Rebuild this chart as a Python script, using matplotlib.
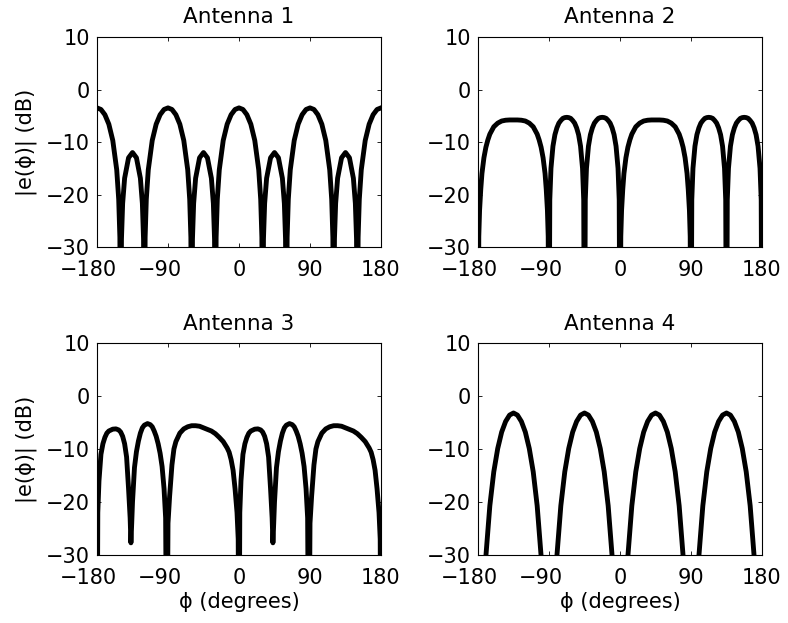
import matplotlib
matplotlib.use('Agg')
import matplotlib.pyplot as plt
from matplotlib.transforms import ScaledTranslation

plt.rcParams['font.family'] = ['DejaVu Sans']
plt.rcParams['font.size'] = 15

# element patterns |e(phi)| in dB, sampled over azimuth
phi1 = [-180, -175, -170, -165, -160, -155, -152.5, -151, -150, -149, -147.5, -145, -140,
        -135, -130, -125, -122.5, -121, -120, -119, -117.5, -115, -110, -105, -100, -95,
        -90, -85, -80, -75, -70, -65, -62.5, -61, -60, -59, -57.5, -55, -50,
        -45, -40, -35, -32.5, -31, -30, -29, -27.5, -25, -20, -15, -10, -5,
        0, 5, 10, 15, 20, 25, 27.5, 29, 30, 31, 32.5, 35, 40,
        45, 50, 55, 57.5, 59, 60, 61, 62.5, 65, 70, 75, 80, 85,
        90, 95, 100, 105, 110, 115, 117.5, 119, 120, 121, 122.5, 125, 130,
        135, 140, 145, 147.5, 149, 150, 151, 152.5, 155, 160, 165, 170, 175, 180]
gain1 = [-3.5, -3.8, -4.8, -6.6, -9.7, -15.3, -20.9, -28.2, -60, -28.5, -21.7, -16.9, -13.0,
         -12.0, -13.0, -16.9, -21.7, -28.5, -60, -28.2, -20.9, -15.3, -9.7, -6.6, -4.8, -3.8,
         -3.5, -3.8, -4.8, -6.6, -9.7, -15.3, -20.9, -28.2, -60, -28.5, -21.7, -16.9, -13.0,
         -12.0, -13.0, -16.9, -21.7, -28.5, -60, -28.2, -20.9, -15.3, -9.7, -6.6, -4.8, -3.8,
         -3.5, -3.8, -4.8, -6.6, -9.7, -15.3, -20.9, -28.2, -60, -28.5, -21.7, -16.9, -13.0,
         -12.0, -13.0, -16.9, -21.7, -28.5, -60, -28.2, -20.9, -15.3, -9.7, -6.6, -4.8, -3.8,
         -3.5, -3.8, -4.8, -6.6, -9.7, -15.3, -20.9, -28.2, -60, -28.5, -21.7, -16.9, -13.0,
         -12.0, -13.0, -16.9, -21.7, -28.5, -60, -28.2, -20.9, -15.3, -9.7, -6.6, -4.8, -3.8, -3.5]

phi2 = [-180, -179, -178, -176.5, -175, -172.5, -170, -167.5, -165, -160, -155, -150, -145, -140,
        -135, -130, -125, -120, -115, -110, -105, -102.5, -100, -97.5, -95, -93.5, -92, -91,
        -90, -89, -87.5, -85, -82.5, -80, -77.5, -75, -72.5, -70, -67.5,
        -65, -62.5, -60, -57.5, -55, -52.5, -50, -47.5, -46,
        -45, -44, -42.5, -40, -37.5, -35, -32.5, -30, -27.5, -25, -22.5,
        -20, -17.5, -15, -12.5, -10, -7.5, -5, -2.5, -1,
        0, 1, 2, 3.5, 5, 7.5, 10, 12.5, 15, 20, 25, 30, 35, 40,
        45, 50, 55, 60, 65, 70, 75, 77.5, 80, 82.5, 85, 86.5, 88, 89,
        90, 91, 92.5, 95, 97.5, 100, 102.5, 105, 107.5, 110, 112.5,
        115, 117.5, 120, 122.5, 125, 127.5, 130, 132.5, 134,
        135, 136, 137.5, 140, 142.5, 145, 147.5, 150, 152.5, 155, 157.5,
        160, 162.5, 165, 167.5, 170, 172.5, 175, 177.5, 179, 180]
gain2 = [-60, -28, -23, -19, -16, -13, -11, -9.6, -8.5, -7.1, -6.4, -6.0, -5.85, -5.8,
         -5.8, -5.8, -5.85, -6.0, -6.4, -7.1, -8.5, -9.6, -11, -13, -16, -19, -23, -28,
         -60, -21, -15, -10.8, -8.6, -7.3, -6.4, -5.9, -5.5, -5.35, -5.3,
         -5.35, -5.5, -5.9, -6.4, -7.3, -8.6, -10.8, -15, -21,
         -60, -21, -15, -10.8, -8.6, -7.3, -6.4, -5.9, -5.5, -5.35, -5.3,
         -5.35, -5.5, -5.9, -6.4, -7.3, -8.6, -10.8, -15, -21,
         -60, -28, -23, -19, -16, -13, -11, -9.6, -8.5, -7.1, -6.4, -6.0, -5.85, -5.8,
         -5.8, -5.8, -5.85, -6.0, -6.4, -7.1, -8.5, -9.6, -11, -13, -16, -19, -23, -28,
         -60, -21, -15, -10.8, -8.6, -7.3, -6.4, -5.9, -5.5, -5.35, -5.3,
         -5.35, -5.5, -5.9, -6.4, -7.3, -8.6, -10.8, -15, -21,
         -60, -21, -15, -10.8, -8.6, -7.3, -6.4, -5.9, -5.5, -5.35, -5.3,
         -5.35, -5.5, -5.9, -6.4, -7.3, -8.6, -10.8, -15, -21, -60]

phi3 = [-180, -179, -177.5, -175, -172.5, -170, -167.5, -165, -160, -156, -152.5, -150,
        -147.5, -145, -142.5, -140, -138, -137, -136, -135, -132.5, -130, -127.5, -125,
        -122.5, -120, -116, -112.5, -110, -107.5, -105, -102.5, -100, -97.5, -95, -93,
        -91.5, -90, -88, -85, -82.5, -80, -75, -70, -65, -60, -55, -50, -45, -40,
        -35, -30, -25, -20, -15, -12.5, -10, -7.5, -5, -2.5, -1,
        0, 1, 2.5, 5, 7.5, 10, 12.5, 15, 20, 24, 27.5, 30,
        32.5, 35, 37.5, 40, 42, 43, 44, 45, 47.5, 50, 52.5, 55,
        57.5, 60, 64, 67.5, 70, 72.5, 75, 77.5, 80, 82.5, 85, 87,
        88.5, 90, 92, 95, 97.5, 100, 105, 110, 115, 120, 125, 130, 135, 140,
        145, 150, 155, 160, 165, 167.5, 170, 172.5, 175, 177.5, 179, 180]
gain3 = [-60, -22, -16, -11, -9, -7.8, -7.0, -6.6, -6.25, -6.2, -6.4, -6.8,
         -7.6, -9.0, -11.5, -17.5, -23, -27.7, -24, -20, -13.5, -10.5, -8.5, -7.0,
         -6.0, -5.5, -5.2, -5.4, -5.8, -6.6, -7.6, -9.0, -10.8, -13.3, -17.5, -23,
         -60, -24, -19, -13, -10, -8.6, -7.0, -6.2, -5.8, -5.6, -5.6, -5.7, -6.0, -6.3,
         -6.6, -7.1, -7.8, -8.6, -9.8, -10.6, -12.0, -14, -17.5, -22, -27,
         -60, -22, -16, -11, -9, -7.8, -7.0, -6.6, -6.25, -6.2, -6.4, -6.8,
         -7.6, -9.0, -11.5, -17.5, -23, -27.7, -24, -20, -13.5, -10.5, -8.5, -7.0,
         -6.0, -5.5, -5.2, -5.4, -5.8, -6.6, -7.6, -9.0, -10.8, -13.3, -17.5, -23,
         -60, -24, -19, -13, -10, -8.6, -7.0, -6.2, -5.8, -5.6, -5.6, -5.7, -6.0, -6.3,
         -6.6, -7.1, -7.8, -8.6, -9.8, -10.6, -12.0, -14, -17.5, -22, -27, -60]

phi4 = list(range(-180, 181, 5))
gain4 = [-60, -47, -30.2, -20.7, -14.3, -9.9, -6.8, -4.8, -3.6,
         -3.2, -3.6, -4.8, -6.8, -9.9, -14.3, -20.7, -30.2, -47,
         -60, -47, -30.2, -20.7, -14.3, -9.9, -6.8, -4.8, -3.6,
         -3.2, -3.6, -4.8, -6.8, -9.9, -14.3, -20.7, -30.2, -47,
         -60, -47, -30.2, -20.7, -14.3, -9.9, -6.8, -4.8, -3.6,
         -3.2, -3.6, -4.8, -6.8, -9.9, -14.3, -20.7, -30.2, -47,
         -60, -47, -30.2, -20.7, -14.3, -9.9, -6.8, -4.8, -3.6,
         -3.2, -3.6, -4.8, -6.8, -9.9, -14.3, -20.7, -30.2, -47, -60]

titles = ['Antenna 1', 'Antenna 2', 'Antenna 3', 'Antenna 4']
xticks = [-180, -90, 0, 90, 180]
yticks = [-30, -20, -10, 0, 10]

fig = plt.figure(figsize=(7.88, 6.23), dpi=100)
boxes = [[0.1231, 0.6035, 0.3604, 0.3371],
         [0.6066, 0.6035, 0.3604, 0.3371],
         [0.1231, 0.1091, 0.3604, 0.3403],
         [0.6066, 0.1091, 0.3604, 0.3403]]
data = [(phi1, gain1), (phi2, gain2), (phi3, gain3), (phi4, gain4)]

# negative x labels: keep the digits centred on the tick, minus hangs left
minus_shift = ScaledTranslation(-0.086, 0, fig.dpi_scale_trans)

for k, (box, (phi, gain)) in enumerate(zip(boxes, data)):
    ax = fig.add_axes(box)
    ax.plot(phi, gain, color='k', lw=3.5, solid_joinstyle='round')
    ax.set_xlim(-180, 180)
    ax.set_ylim(-30, 10)
    ax.set_xticks(xticks)
    ax.set_yticks(yticks)
    ax.tick_params(direction='in', top=True, right=True, length=3, width=0.6)
    ax.tick_params(axis='x', pad=9)
    ax.tick_params(axis='y', pad=5)
    for t, v in zip(ax.xaxis.get_major_ticks(), xticks):
        if v < 0:
            t.label1.set_transform(t.label1.get_transform() + minus_shift)
    for s in ax.spines.values():
        s.set_linewidth(0.8)
    ax.set_title(titles[k], fontsize=15.5, pad=10 if k < 2 else 9.5)
    if k % 2 == 0:
        ax.set_ylabel('|e(\u03d5)| (dB)')
        ax.yaxis.set_label_coords(-0.211, 0.5)
    if k >= 2:
        ax.set_xlabel('\u03d5 (degrees)')
        ax.xaxis.set_label_coords(0.5, -0.175)

fig.savefig('out.png', dpi=100)
